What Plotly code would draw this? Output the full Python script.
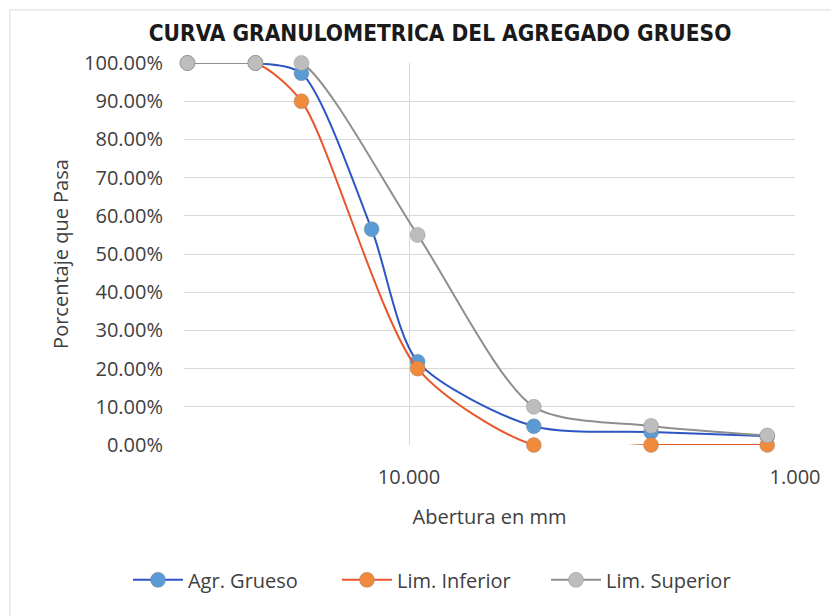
import plotly.graph_objects as go

# Sieve openings (mm)
aberturas = [37.5, 25.0, 19.0, 12.5, 9.5, 4.75, 2.36, 1.18]
agr_grueso = [1.00, 1.00, 0.973, 0.565, 0.218, 0.049, 0.034, 0.023]
lim_inferior = [1.00, 1.00, 0.90, None, 0.20, 0.00, 0.00, 0.00]
lim_superior = [1.00, 1.00, 1.00, None, 0.55, 0.10, 0.05, 0.025]

y_ticks = [0, 0.1, 0.2, 0.3, 0.4, 0.5, 0.6, 0.7, 0.8, 0.9, 1.0]
x_ticks = [10, 1]
x_ticktext = ["10.000", "1.000"]

FONT = "Open Sans, Noto Sans, DejaVu Sans, sans-serif"

series = [
    ("Agr. Grueso", agr_grueso, "#2D55C4", "#5B9BD5"),
    ("Lim. Inferior", lim_inferior, "#E8562A", "#F08A3C"),
    ("Lim. Superior", lim_superior, "#8F8F8F", "#BDBDBD"),
]

fig = go.Figure()
for name, vals, lc, mc in series:
    fig.add_trace(go.Scatter(
        x=aberturas, y=vals, name=name, mode="lines+markers",
        connectgaps=True,
        line=dict(color=lc, width=2, shape="spline", smoothing=0.75),
        marker=dict(color=mc, size=15, line=dict(color="rgba(120,120,120,0.35)", width=1)),
        cliponaxis=False,
    ))

fig.update_layout(
    width=839, height=616,
    paper_bgcolor="white", plot_bgcolor="white",
    margin=dict(l=176, r=52, t=55, b=179, autoexpand=False),
    font=dict(family=FONT, size=20, color="#404040"),
    title=dict(
        text="<b>CURVA GRANULOMETRICA DEL AGREGADO GRUESO</b>",
        x=0.515, xanchor="center", y=0.959, yanchor="middle",
        font=dict(family="Liberation Sans Narrow, Arial Narrow, DejaVu Sans Condensed, sans-serif",
                  size=22.5, color="#1a1a1a"),
    ),
    showlegend=True,
    legend=dict(
        orientation="h", x=-0.0917, xanchor="left", y=-0.353, yanchor="middle",
        font=dict(family=FONT, size=20, color="#404040"),
        itemwidth=50, traceorder="normal",
        entrywidth=144, entrywidthmode="pixels",
    ),
)

fig.update_xaxes(
    type="log", range=[1.583, 0],
    tickvals=x_ticks, ticktext=x_ticktext,
    showgrid=True, gridcolor="#D9D9D9", gridwidth=1,
    zeroline=False, showline=False, ticks="",
    ticklabelstandoff=18, automargin=False,
    tickfont=dict(family=FONT, size=20, color="#404040"),
    title=dict(text="Abertura en mm", standoff=20,
               font=dict(family=FONT, size=20, color="#404040")),
)
fig.update_yaxes(
    range=[0, 1], tickvals=y_ticks, tickformat=".2%",
    showgrid=True, gridcolor="#D9D9D9", gridwidth=1,
    zeroline=False, showline=False, ticks="",
    ticklabelstandoff=20, automargin=False,
    tickfont=dict(family=FONT, size=20, color="#404040"),
    title=dict(text="Porcentaje que Pasa", standoff=10,
               font=dict(family=FONT, size=20, color="#404040")),
)

fig.add_shape(type="rect", xref="paper", yref="paper",
              x0=-0.285, x1=1.2, y0=-0.6, y1=1.139,
              line=dict(color="#DADADA", width=1), layer="below")

fig.write_html("out.html")
